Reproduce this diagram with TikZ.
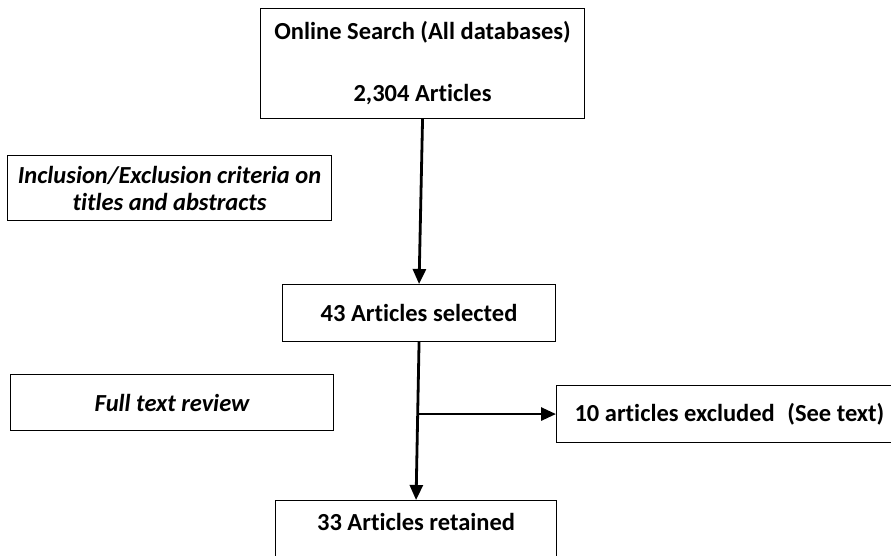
\documentclass[tikz,border=0pt]{standalone}
\usepackage{fontspec}
\setmainfont{Carlito}[Ligatures=NoCommon]
\usetikzlibrary{arrows.meta}
\begin{document}
\begin{tikzpicture}[x=1pt,y=-1pt,
  box/.style={draw=black, line width=1.1pt, inner sep=0pt, font=\fontsize{24.5}{28}\selectfont\bfseries, anchor=north west},
  note/.style={box, font=\fontsize{24.5}{27}\selectfont\bfseries\itshape, align=center},
  flow/.style={line width=2.8pt, -{Triangle[length=15pt,width=13pt]}}
]
\useasboundingbox (0,0) rectangle (891,556);
\clip (0,0) rectangle (891,556);

% main stages
\node[box, minimum width=324pt, minimum height=110pt, align=center] (search) at (260,8)
  {Online Search (All databases)\\[34pt]2,304 Articles};
\node[box, minimum width=273pt, minimum height=57pt] (selected) at (282,284) {43 Articles selected};
\node[box, minimum width=281pt, minimum height=70pt, text height=17pt, text depth=28pt] (retained) at (275,500) {33 Articles retained};
\node[box, minimum height=57pt, inner xsep=18pt] (excluded) at (556,385)
  {10 articles excluded\hspace{7pt} (See text)};

% screening notes
\node[note, minimum width=324pt, minimum height=65pt] (criteria) at (7,155)
  {Inclusion/Exclusion criteria on\\titles and abstracts};
\node[note, minimum width=323pt, minimum height=56pt] (review) at (10,374) {Full text review};

% connectors
\coordinate (split) at (selected.south |- excluded.west);
\draw[flow] (search.south) -- (selected.north);
\draw[flow] (selected.south) -- (retained.north);
\draw[flow] (split) -- (excluded.west);
\end{tikzpicture}
\end{document}
